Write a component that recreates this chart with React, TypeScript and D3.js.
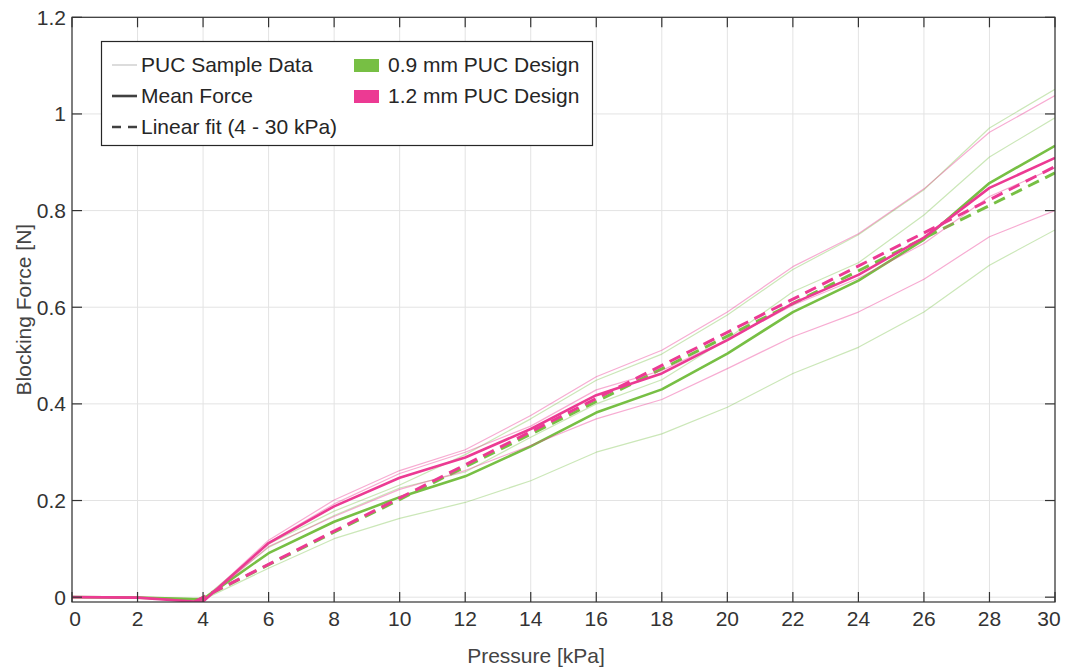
import React from "react";
import * as d3 from "d3";

// ---- data ----
const pressure = [0, 2, 3.7, 4, 6, 8, 10, 12, 14, 16, 18, 20, 22, 24, 26, 28, 30];

const greenSamples = [
  [0, 0, -0.003, -0.003, 0.11, 0.178, 0.232, 0.295, 0.369, 0.449, 0.503, 0.584, 0.678, 0.75, 0.843, 0.971, 1.051],
  [0, -0.001, -0.004, -0.004, 0.103, 0.169, 0.226, 0.259, 0.331, 0.4, 0.45, 0.535, 0.632, 0.692, 0.791, 0.911, 0.992],
  [0, -0.002, -0.005, -0.005, 0.06, 0.121, 0.163, 0.196, 0.241, 0.3, 0.338, 0.393, 0.463, 0.517, 0.59, 0.687, 0.76],
];
const pinkSamples = [
  [0, 0, -0.008, -0.008, 0.118, 0.201, 0.262, 0.305, 0.376, 0.456, 0.511, 0.59, 0.684, 0.752, 0.845, 0.962, 1.038],
  [0, -0.001, -0.009, -0.009, 0.113, 0.193, 0.256, 0.3, 0.354, 0.429, 0.469, 0.533, 0.604, 0.66, 0.732, 0.829, 0.889],
  [0, -0.001, -0.01, -0.01, 0.105, 0.167, 0.223, 0.262, 0.314, 0.369, 0.409, 0.473, 0.539, 0.59, 0.658, 0.746, 0.8],
];
const greenMean = [0, -0.001, -0.004, -0.004, 0.091, 0.156, 0.207, 0.25, 0.312, 0.382, 0.43, 0.504, 0.59, 0.655, 0.74, 0.857, 0.934];
const pinkMean = [0, -0.001, -0.009, -0.009, 0.112, 0.188, 0.247, 0.289, 0.348, 0.418, 0.463, 0.532, 0.608, 0.667, 0.744, 0.847, 0.909];

const fitPressure = [3.75, 30];
const greenFit = [-0.009, 0.878];
const pinkFit = [-0.009, 0.891];

const xTicks = d3.range(0, 31, 2);
const yTicks = [0, 0.2, 0.4, 0.6, 0.8, 1, 1.2];
const yTickLabels = ["0", "0.2", "0.4", "0.6", "0.8", "1", "1.2"];

const GREEN = "#77bf44";
const PINK = "#ec3a93";
const AXIS = "#333333";
const FONT = "Liberation Sans, Arial, Helvetica, sans-serif";

export default function App() {
  const W = 1076, H = 668;
  const left = 72, right = 1055, top = 17.3, bottom = 602;
  const x = d3.scaleLinear().domain([0, 30]).range([left, right]);
  const y = d3.scaleLinear().domain([-0.01, 1.2]).range([bottom, top]);
  const line = d3.line<number>().x((_, i) => x(pressure[i])).y((d) => y(d));
  const fitLine = (vals: number[]) =>
    d3.line<number>().x((_, i) => x(fitPressure[i])).y((d) => y(d))(vals) as string;

  const tickLen = 10;
  const labelNudge = (i: number, n: number) => (i === 0 ? 3 : i === n - 1 ? -6 : 0);

  return (
    <svg width={W} height={H} style={{ position: "fixed", left: 0, top: 0, background: "#fff" }} fontFamily={FONT}>
      <defs>
        <clipPath id="plot">
          <rect x={left} y={top} width={right - left} height={bottom - top} />
        </clipPath>
      </defs>
      {/* grid */}
      {xTicks.map((t) => (
        <line key={"gx" + t} x1={x(t)} x2={x(t)} y1={top} y2={bottom} stroke="#e3e3e3" strokeWidth={1} />
      ))}
      {yTicks.map((t) => (
        <line key={"gy" + t} x1={left} x2={right} y1={y(t)} y2={y(t)} stroke="#e3e3e3" strokeWidth={1} />
      ))}

      <g clipPath="url(#plot)" fill="none" strokeLinejoin="round">
        {greenSamples.map((s, i) => (
          <path key={"gs" + i} d={line(s) as string} stroke={GREEN} strokeOpacity={0.38} strokeWidth={1.2} />
        ))}
        <path d={line(greenMean) as string} stroke={GREEN} strokeWidth={2.6} />
        <path d={fitLine(greenFit)} stroke={GREEN} strokeWidth={3} strokeDasharray="12 7" />
        {pinkSamples.map((s, i) => (
          <path key={"ps" + i} d={line(s) as string} stroke={PINK} strokeOpacity={0.42} strokeWidth={1.2} />
        ))}
        <path d={line(pinkMean) as string} stroke={PINK} strokeWidth={2.6} />
        <path d={fitLine(pinkFit)} stroke={PINK} strokeWidth={3} strokeDasharray="12 7" />
      </g>

      {/* axes box */}
      <rect x={left} y={top} width={right - left} height={bottom - top} fill="none" stroke={AXIS} strokeWidth={1.2} />
      {xTicks.map((t, i) => (
        <g key={"tx" + t}>
          <line x1={x(t)} x2={x(t)} y1={bottom} y2={bottom - tickLen} stroke={AXIS} strokeWidth={1.2} />
          <line x1={x(t)} x2={x(t)} y1={top} y2={top + tickLen} stroke={AXIS} strokeWidth={1.2} />
          <text x={x(t) + labelNudge(i, xTicks.length)} y={626} textAnchor="middle" fontSize={21} fill="#333">
            {t}
          </text>
        </g>
      ))}
      {yTicks.map((t, i) => (
        <g key={"ty" + t}>
          <line x1={left} x2={left + tickLen} y1={y(t)} y2={y(t)} stroke={AXIS} strokeWidth={1.2} />
          <line x1={right} x2={right - tickLen} y1={y(t)} y2={y(t)} stroke={AXIS} strokeWidth={1.2} />
          <text x={66} y={y(t)} dy="0.35em" textAnchor="end" fontSize={21} fill="#333">
            {yTickLabels[i]}
          </text>
        </g>
      ))}

      {/* axis labels */}
      <text x={536} y={663} textAnchor="middle" fontSize={21} fill="#444">
        Pressure [kPa]
      </text>
      <text transform={`translate(31,${(top + bottom) / 2}) rotate(-90)`} textAnchor="middle" fontSize={21} fill="#444">
        Blocking Force [N]
      </text>

      {/* legend */}
      <g>
        <rect x={101.5} y={41.5} width={491} height={104} fill="#fff" stroke="#262626" strokeWidth={1.2} />
        <line x1={112} x2={137} y1={65} y2={65} stroke="#c4c4c4" strokeWidth={1.2} />
        <line x1={112} x2={137} y1={96} y2={96} stroke="#404040" strokeWidth={2.6} />
        <line x1={112} x2={137} y1={127} y2={127} stroke="#404040" strokeWidth={2.6} strokeDasharray="9 7" />
        <text x={141} y={65} dy="0.35em" fontSize={21} fill="#262626">PUC Sample Data</text>
        <text x={141} y={96} dy="0.35em" fontSize={21} fill="#262626">Mean Force</text>
        <text x={141} y={127} dy="0.35em" fontSize={21} fill="#262626">Linear fit (4 - 30 kPa)</text>
        <rect x={354} y={59} width={25} height={13} fill={GREEN} />
        <rect x={354} y={90} width={25} height={13} fill={PINK} />
        <text x={388} y={65} dy="0.35em" fontSize={21} fill="#262626">0.9 mm PUC Design</text>
        <text x={388} y={96} dy="0.35em" fontSize={21} fill="#262626">1.2 mm PUC Design</text>
      </g>
    </svg>
  );
}
